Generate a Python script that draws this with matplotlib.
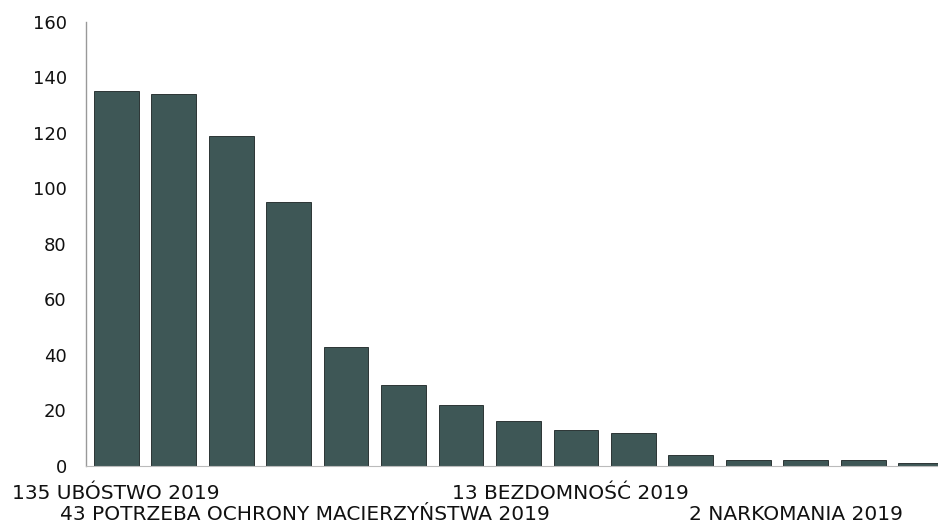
import matplotlib.pyplot as plt
import matplotlib.transforms as mtransforms

# values of the 15 bars
values = [135, 134, 119, 95, 43, 29, 22, 16, 13, 12, 4, 2, 2, 2, 1]

# only every 4th category is labelled in the original
label_pos = [0, 4, 8, 12]
label_txt = ["135 UBÓSTWO 2019",
             "43 POTRZEBA OCHRONY MACIERZYŃSTWA 2019",
             "13 BEZDOMNOŚĆ 2019",
             "2 NARKOMANIA 2019"]

fig = plt.figure(figsize=(9.38, 5.24), dpi=100)
ax = fig.add_axes([0.092, 0.111, 0.908, 0.847])

x = list(range(len(values)))
ax.bar(x, values, width=0.78, color="#3e5756", edgecolor="#1a2222", linewidth=0.6)

ax.set_ylim(0, 160)
ax.set_xlim(-0.52, 14.3)
ax.set_yticks(range(0, 161, 20))
ax.tick_params(axis="y", length=0, labelsize=13, pad=14, colors="#111111")
ax.set_xticks([])

# staggered category labels, two rows below the axis
trans = mtransforms.blended_transform_factory(ax.transData, ax.transAxes)
shifts = [0, -30, -4, -7]  # points, nudges to match the original
for i, (p, t) in enumerate(zip(label_pos, label_txt)):
    yrow = -0.074 if i % 2 == 0 else -0.122
    tr = mtransforms.offset_copy(trans, fig=fig, x=shifts[i], y=0, units="points")
    ax.text(p, yrow, t, transform=tr, ha="center", va="baseline",
            fontsize=14.5, color="#111111", clip_on=False)

for s in ["top", "right"]:
    ax.spines[s].set_visible(False)
ax.spines["left"].set_color("#999999")
ax.spines["left"].set_linewidth(1.0)
ax.spines["bottom"].set_color("#bbbbbb")
ax.spines["bottom"].set_linewidth(0.8)

plt.savefig("out.png", dpi=100)
